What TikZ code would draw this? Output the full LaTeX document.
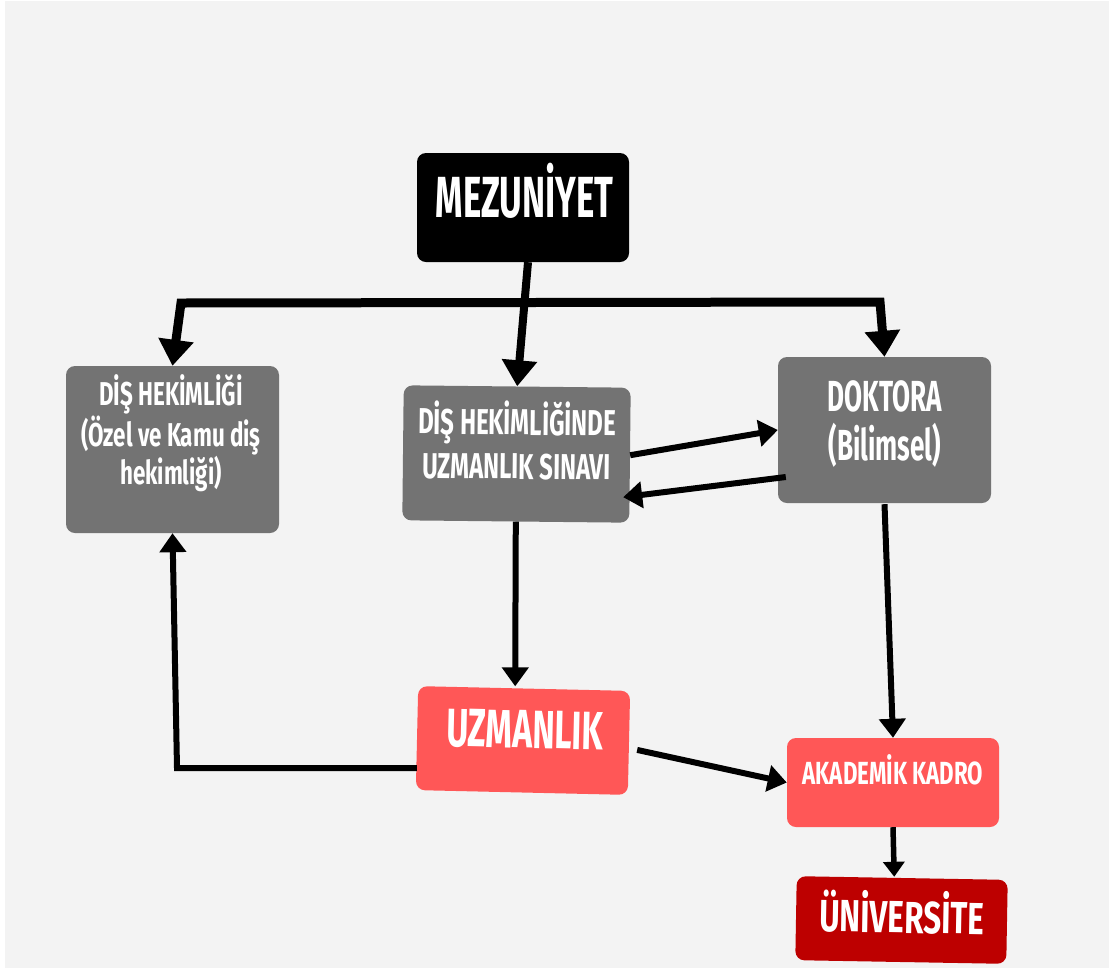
\documentclass[tikz,border=0pt]{standalone}
\usepackage{fontspec}
\usetikzlibrary{arrows.meta,calc}
\newfontfamily\cond[FakeStretch=0.6]{Fira Sans}
\definecolor{bggrey}{HTML}{F3F3F3}
\definecolor{boxgrey}{HTML}{737373}
\definecolor{salmon}{HTML}{FF5757}
\definecolor{darkred}{HTML}{BD0000}
\tikzset{
  box/.style={rectangle, rounded corners=9pt, inner sep=0pt, draw=none},
  txt/.style={text=white, align=center, inner sep=0pt, anchor=base},
  conn/.style={line width=6pt, line join=miter},
  thickconn/.style={line width=9pt, line join=miter},
  bigtip/.style={-{Triangle[width=34pt,length=26pt]}},
  bigtips/.style={{Triangle[width=34pt,length=26pt]}-{Triangle[width=34pt,length=26pt]}},
  midtip/.style={-{Triangle[width=26pt,length=19pt]}},
  smalltip/.style={-{Triangle[width=21pt,length=15pt]}}
}
\newcommand{\fsz}[2]{\cond\bfseries\fontsize{#1}{#2}\selectfont}
\begin{document}
\begin{tikzpicture}[x=1pt,y=-1pt]
\useasboundingbox (0,0) rectangle (1111,970);
\fill[white] (0,0) rectangle (1111,970);
\fill[bggrey] (5,1) rectangle (1109,968);

% boxes
\node[box, fill=black, minimum width=212pt, minimum height=109pt] (mez) at (523,207.5) {};
\node[box, fill=boxgrey, minimum width=213pt, minimum height=167pt] (dh) at (172.5,449.5) {};
\node[box, fill=boxgrey, minimum width=227pt, minimum height=135pt, rotate=-0.6] (dhu) at (516.5,454) {};
\node[box, fill=boxgrey, minimum width=213pt, minimum height=146pt] (dok) at (884.5,430) {};
\node[box, fill=salmon, minimum width=212pt, minimum height=104pt, rotate=-1.3] (uzm) at (523,740.5) {};
\node[box, fill=salmon, minimum width=212pt, minimum height=89pt] (ak) at (893,782.5) {};
\node[box, fill=darkred, minimum width=211pt, minimum height=84pt, rotate=-1] (uni) at (901.5,920) {};

% connectors
\coordinate (barL) at (181,303);
\coordinate (barR) at (880,302);
\draw[thickconn, bigtips] (dh.north) -- (barL) -- (barR) -- (dok.north);
\draw[line width=8pt, bigtip] ($(mez.south)+(5,0)$) -- (dhu.north);
\draw[conn, midtip] (dhu.east) -- (dok.west);
\draw[conn, midtip] ($(dok.west)+(8,47)$) -- ($(dhu.east)+(-7,42)$);
\draw[conn, midtip] (dhu.south) -- ($(uzm.north)+(-9,-2)$);
\draw[conn, midtip] ($(dok.south)+(0,1)$) -- (ak.north);
\draw[conn, midtip] ($(uzm.east)+(8,7)$) -- (ak.west);
\draw[line width=5.5pt, smalltip] (ak.south) -- ($(uni.north)+(-8,-1)$);
\coordinate (corner) at (177,768);
\draw[conn, midtip] ($(uzm.west)+(0,30)$) -- (corner) -- (dh.south);

% texts (base anchor = baseline of last line)
\node[txt, font=\fsz{58}{58}] (mezt) at (524.5,217) {MEZUNİYET};
\node[txt, font=\fsz{33}{36.5}, xscale=1.13] (dht) at (171,484) {DİŞ HEKİMLİĞİ\\(Özel ve Kamu diş\\hekimliği)};
\node[txt, font=\fsz{36}{44}, rotate=-0.6, xscale=1.11] (dhut) at (516.5,479) {DİŞ HEKİMLİĞİNDE\\UZMANLIK SINAVI};
\node[txt, font=\fsz{43.5}{49}] (dokt) at (885,460) {DOKTORA\\(Bilimsel)};
\node[txt, font=\fsz{54}{54}, rotate=-1.3, xscale=1.04] (uzmt) at (524.5,748) {UZMANLIK};
\node[txt, font=\fsz{32}{32}, xscale=1.16] (akt) at (893,784) {AKADEMİK KADRO};
\node[txt, font=\fsz{45}{45}, rotate=-1, xscale=1.16] (unit) at (901.5,933) {ÜNİVERSİTE};
\end{tikzpicture}
\end{document}
